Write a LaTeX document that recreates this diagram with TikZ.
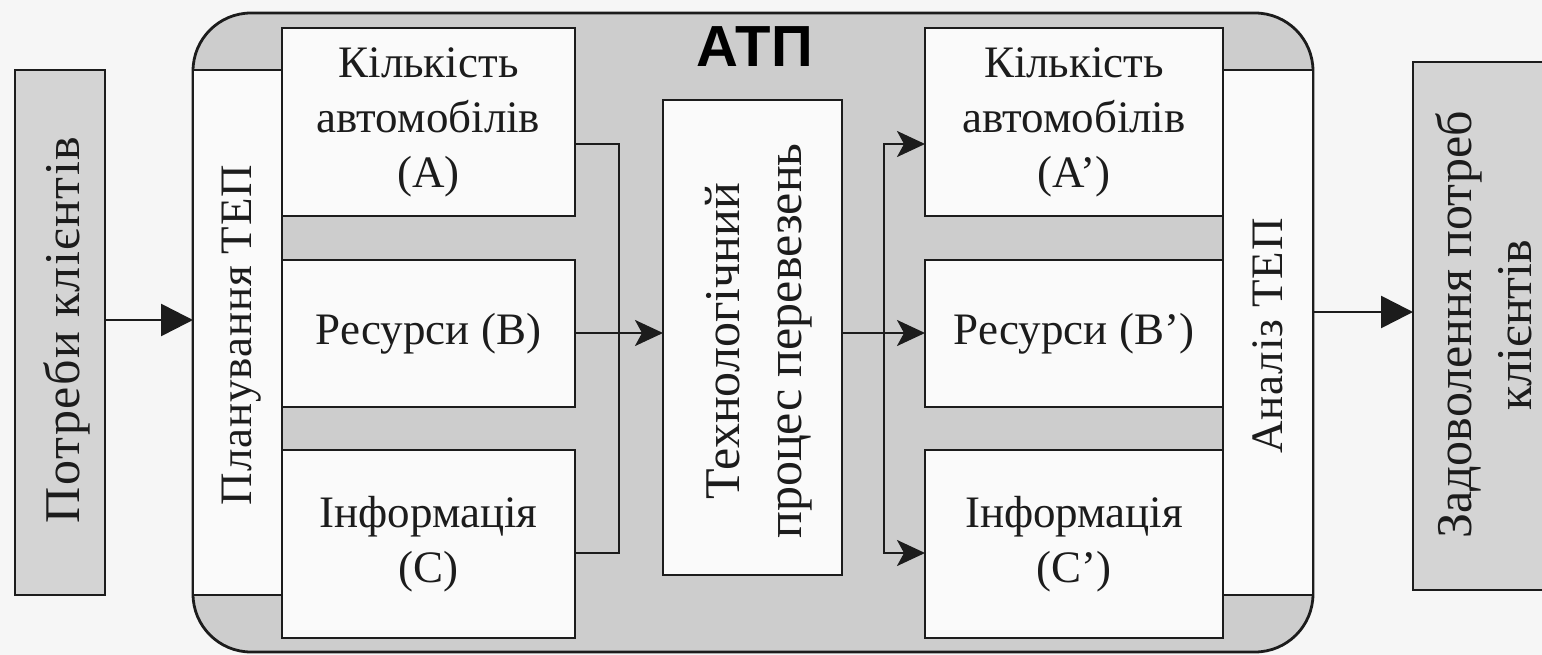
\documentclass[tikz,border=0pt]{standalone}
\usepackage{fontspec}
\setmainfont{Liberation Serif}
\newfontfamily\headfont{Liberation Sans}
\usetikzlibrary{arrows.meta}

\definecolor{pagebg}{RGB}{246,246,246}
\definecolor{atpfill}{RGB}{205,205,205}
\definecolor{sidefill}{RGB}{212,212,212}
\definecolor{boxfill}{RGB}{250,250,250}
\definecolor{ink}{RGB}{28,28,28}

\tikzset{
  every node/.style={inner sep=0pt, outer sep=0pt},
  frame/.style={draw=ink, line width=2.8pt},
  sidebox/.style={frame, fill=sidefill},
  whitebox/.style={frame, fill=boxfill},
  txt/.style={text=ink, align=center, font=\fontsize{45}{55}\selectfont},
  vtxt/.style={txt, rotate=90},
  bigvtxt/.style={vtxt, font=\fontsize{50}{62}\selectfont},
  link/.style={draw=ink, line width=2.6pt},
  smalltip/.tip={Stealth[length=28pt,width=26pt,inset=7pt]},
  flow/.style={link, -smalltip},
  flowboth/.style={link, smalltip-smalltip},
  bigflow/.style={link, -{Triangle[length=32pt,width=32pt]}},
}

\begin{document}
\begin{tikzpicture}[x=1pt,y=-1pt]
  \useasboundingbox (0,0) rectangle (1542,655);
  \fill[pagebg] (0,0) rectangle (1542,655);
  \begin{scope}
  \clip (0,0) rectangle (1542,655);

  % outer requirement boxes
  \node[sidebox, minimum width=90pt, minimum height=525pt] (needs) at (60,332.5) {};
  \node[bigvtxt, font=\fontsize{50}{62}\selectfont\addfontfeature{LetterSpace=3}] (needstext) at (66.5,330) {Потреби клієнтів};

  \node[sidebox, minimum width=147pt, minimum height=528pt] (sat) at (1486.5,326) {};
  \node[bigvtxt, font=\fontsize{50}{60}\selectfont] (sattext) at (1484,325) {Задоволення потреб\\клієнтів};

  % the enterprise block
  \node[frame, fill=atpfill, rounded corners=58pt, minimum width=1120pt, minimum height=639pt] (atp) at (753,332.5) {};
  \node[text=black, font=\headfont\bfseries\fontsize{58}{60}\selectfont] (atptitle) at (755,47) {АТП};

  % planning / analysis strips
  \node[whitebox, minimum width=89pt, minimum height=525pt] (plan) at (237.5,332.5) {};
  \node[vtxt, font=\fontsize{45}{55}\selectfont\addfontfeature{LetterSpace=2}] (plantext) at (242,335) {Планування ТЕП};
  \node[whitebox, minimum width=90pt, minimum height=525pt] (anal) at (1268,332.5) {};
  \node[vtxt, font=\fontsize{45}{55}\selectfont\addfontfeature{LetterSpace=2}] (analtext) at (1268,336) {Аналіз ТЕП};

  % input resources
  \node[whitebox, txt, minimum width=293pt, minimum height=188pt] (ka) at (428.5,122) {Кількість\\автомобілів\\(A)};
  \node[whitebox, txt, minimum width=293pt, minimum height=147pt] (kb) at (428.5,333.5) {Ресурси (B)};
  \node[whitebox, txt, minimum width=293pt, minimum height=188pt] (kc) at (428.5,544) {Інформація\\(C)};

  % transport process
  \node[whitebox, minimum width=179pt, minimum height=475pt] (tech) at (752.5,337.5) {};
  \node[bigvtxt] (techtext) at (759,341) {Технологічний\\процес перевезень};

  % output resources
  \node[whitebox, txt, minimum width=298pt, minimum height=188pt] (ka2) at (1074,122) {Кількість\\автомобілів\\(A’)};
  \node[whitebox, txt, minimum width=298pt, minimum height=147pt] (kb2) at (1074,333.5) {Ресурси (B’)};
  \node[whitebox, txt, minimum width=298pt, minimum height=188pt] (kc2) at (1074,544) {Інформація\\(C’)};

  % connector levels
  \coordinate (yA) at (0,144);
  \coordinate (yB) at (0,333);
  \coordinate (yC) at (0,553);
  \coordinate (yin) at (0,320);
  \coordinate (yout) at (0,312);
  \coordinate (xL) at (619,0);
  \coordinate (xR) at (884,0);

  \draw[bigflow] (needs.east |- yin) -- (plan.west |- yin);
  \draw[link] (ka.east |- yA) -- (xL |- yA) -- (xL |- yC) -- (kc.east |- yC);
  \draw[flow] (kb.east |- yB) -- (tech.west |- yB);
  \draw[flow] (tech.east |- yB) -- (kb2.west |- yB);
  \draw[flowboth] (ka2.west |- yA) -- (xR |- yA) -- (xR |- yC) -- (kc2.west |- yC);
  \draw[bigflow] (anal.east |- yout) -- (sat.west |- yout);
  \end{scope}
\end{tikzpicture}
\end{document}
